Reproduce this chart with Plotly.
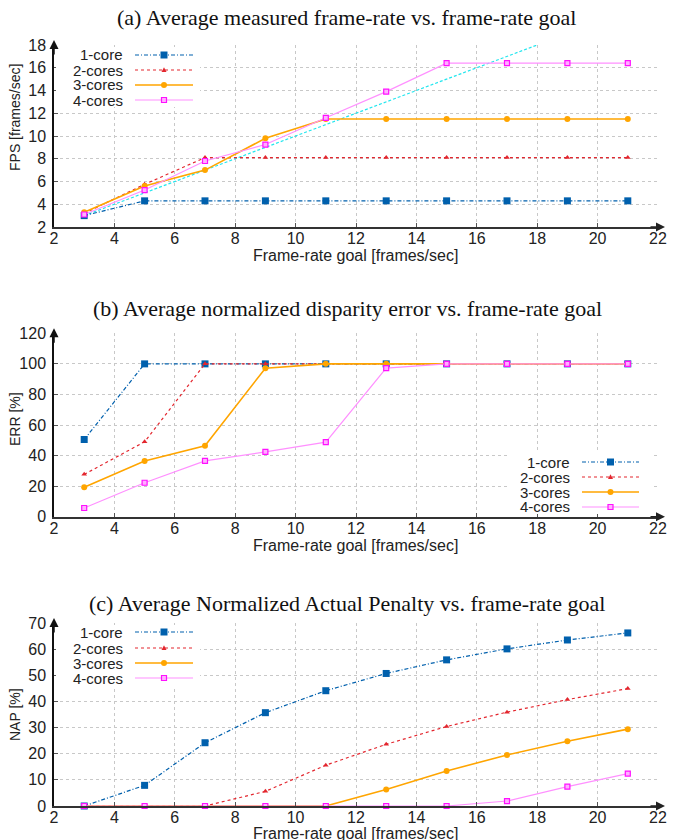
import plotly.graph_objects as go

# ---------------- data ----------------
goal = [3, 5, 7, 9, 11, 13, 15, 17, 19, 21]
series_names = ["1-core", "2-cores", "3-cores", "4-cores"]

fps_1core = [3.0, 4.3, 4.3, 4.3, 4.3, 4.3, 4.3, 4.3, 4.3, 4.3]
fps_2cores = [3.2, 5.75, 8.1, 8.1, 8.1, 8.1, 8.1, 8.1, 8.1, 8.1]
fps_3cores = [3.3, 5.6, 7.0, 9.8, 11.5, 11.5, 11.5, 11.5, 11.5, 11.5]
fps_4cores = [3.1, 5.25, 7.8, 9.25, 11.6, 13.9, 16.4, 16.4, 16.4, 16.4]
ideal_goal = [3, 18]
ideal_fps = [3, 18]

err_1core = [50.5, 100, 100, 100, 100, 100, 100, 100, 100, 100]
err_2cores = [27.7, 49, 100, 100, 100, 100, 100, 100, 100, 100]
err_3cores = [19.3, 36.5, 46.4, 97.2, 100, 100, 100, 100, 100, 100]
err_4cores = [5.7, 22.2, 36.5, 42.4, 48.8, 97.2, 100, 100, 100, 100]

nap_1core = [0, 7.9, 24.2, 35.7, 44.1, 50.7, 55.9, 60.1, 63.5, 66.2]
nap_2cores = [0, 0, 0, 5.6, 15.6, 23.6, 30.4, 35.9, 40.7, 44.9]
nap_3cores = [0, 0, 0, 0, 0, 6.3, 13.4, 19.5, 24.8, 29.4]
nap_4cores = [0, 0, 0, 0, 0, 0, 0, 1.9, 7.4, 12.4]

x_range = [2, 22]
fps_range = [2, 18]
err_range = [0, 120]
nap_range = [0, 70]

titles = ["(a) Average measured frame-rate vs. frame-rate goal",
          "(b) Average normalized disparity error vs. frame-rate goal",
          "(c) Average Normalized Actual Penalty vs. frame-rate goal"]
x_title = "Frame-rate goal [frames/sec]"
y_titles = ["FPS [frames/sec]", "ERR [%]", "NAP [%]"]

# ---------------- geometry helpers ----------------
W, H, OFF = 676, 840, 0


def px(x):
    return (x - OFF) / W


def py(y):
    return 1 - (y - OFF) / H


SANS = "Liberation Sans, Arial, Helvetica, sans-serif"
SERIF = "Liberation Serif, Times New Roman, serif"

styles = {
    "1-core": dict(line=dict(color="#0060ad", width=1.2, dash="4px,2px,1px,2px"),
                   marker=dict(symbol="square", size=7, color="#0060ad")),
    "2-cores": dict(line=dict(color="#e3262e", width=1.2, dash="dot"),
                    marker=dict(symbol="triangle-up", size=5, color="#e3262e")),
    "3-cores": dict(line=dict(color="#ffa500", width=1.6, dash="solid"),
                    marker=dict(symbol="circle", size=6, color="#ffa500")),
    "4-cores": dict(line=dict(color="#ff90ff", width=1.2, dash="solid"),
                    marker=dict(symbol="square", size=5, color="#ffb0ff",
                                line=dict(color="#ff10ff", width=1.2))),
}

fig = go.Figure()

panels = [
    (fps_range, 2, [fps_1core, fps_2cores, fps_3cores, fps_4cores], (45, 227)),
    (err_range, 20, [err_1core, err_2cores, err_3cores, err_4cores], (333.3, 516.7)),
    (nap_range, 10, [nap_1core, nap_2cores, nap_3cores, nap_4cores], (623, 806)),
]

layout = dict(
    width=W, height=H, template="none",
    margin=dict(l=0, r=0, t=0, b=0, autoexpand=False),
    paper_bgcolor="white", plot_bgcolor="white",
    showlegend=False,
    font=dict(family=SANS, size=14, color="#222"),
)

annotations = []
shapes = []

for i, (yr, dt, vals, (ytop, ybot)) in enumerate(panels):
    k = "" if i == 0 else str(i + 1)
    xa = "x" + k
    ya = "y" + k
    if i == 0:
        fig.add_trace(go.Scatter(x=ideal_goal, y=ideal_fps, mode="lines",
                                 line=dict(color="#22e6ee", width=1.2, dash="3px,2px"),
                                 xaxis=xa, yaxis=ya, hoverinfo="skip"))
    for name, v in zip(series_names, vals):
        st = styles[name]
        fig.add_trace(go.Scatter(x=goal, y=v, mode="lines+markers", name=name,
                                 line=st["line"], marker=st["marker"],
                                 cliponaxis=False, xaxis=xa, yaxis=ya))
    axis_common = dict(showgrid=True, gridcolor="#c8c8c8", griddash="dot", gridwidth=1,
                       zeroline=False, showline=True, ticks="inside", ticklen=4,
                       tickcolor="#555", tickfont=dict(family=SANS, size=16, color="#222"),
                       automargin=False)
    layout["xaxis" + k] = dict(axis_common, range=x_range, dtick=2, tick0=0,
                               domain=[px(54), px(658)], anchor=ya,
                               linecolor="#333", linewidth=2, ticklabelstandoff=-4)
    layout["yaxis" + k] = dict(axis_common, range=yr, dtick=dt, tick0=0,
                               domain=[py(ybot), py(ytop)], anchor=xa,
                               linecolor="#111", linewidth=1.5, ticklabelstandoff=3)
    # arrows on axes
    annotations.append(dict(x=px(665), y=py(ybot), ax=-16, ay=0,
                            xref="paper", yref="paper", axref="pixel", ayref="pixel",
                            text="", showarrow=True, arrowhead=2, arrowsize=1.2,
                            arrowwidth=1.5, arrowcolor="#222"))
    annotations.append(dict(x=px(54), y=py(ytop - 5), ax=0, ay=16,
                            xref="paper", yref="paper", axref="pixel", ayref="pixel",
                            text="", showarrow=True, arrowhead=2, arrowsize=1.2,
                            arrowwidth=1.5, arrowcolor="#111"))

# panel titles
for t, yy in zip(titles, [17, 308, 603]):
    annotations.append(dict(x=px(347), y=py(yy), xref="paper", yref="paper", text=t,
                            showarrow=False, xanchor="center", yanchor="middle",
                            font=dict(family=SERIF, size=22, color="#111")))
# x axis titles
for yy in [255, 545, 833]:
    annotations.append(dict(x=px(355), y=py(yy), xref="paper", yref="paper", text=x_title,
                            showarrow=False, xanchor="center", yanchor="middle",
                            font=dict(family=SANS, size=16, color="#222")))
# y axis titles
for t, yy in zip(y_titles, [118, 419, 715]):
    annotations.append(dict(x=px(15), y=py(yy), xref="paper", yref="paper", text=t,
                            textangle=-90, showarrow=False, xanchor="center",
                            yanchor="middle", font=dict(family=SANS, size=14, color="#222")))


# custom legends (text first, then line sample)
def add_legend(box, text_right, lx0, lx1, rows):
    bx0, by0, bx1, by1 = box
    shapes.append(dict(type="rect", xref="paper", yref="paper", x0=px(bx0), x1=px(bx1),
                       y0=py(by1), y1=py(by0), fillcolor="white", line=dict(width=0),
                       layer="above"))
    cx = (lx0 + lx1) / 2
    for name, ry in zip(series_names, rows):
        st = styles[name]
        annotations.append(dict(x=px(text_right), y=py(ry), xref="paper", yref="paper",
                                text=name, showarrow=False, xanchor="right",
                                yanchor="middle",
                                font=dict(family=SANS, size=15, color="#222")))
        shapes.append(dict(type="line", xref="paper", yref="paper", x0=px(lx0), x1=px(lx1),
                           y0=py(ry), y1=py(ry), line=st["line"], layer="above"))
        m = st["marker"]
        s = m["size"] / 2
        if m["symbol"] == "square":
            shapes.append(dict(type="rect", xref="paper", yref="paper",
                               x0=px(cx - s), x1=px(cx + s), y0=py(ry + s), y1=py(ry - s),
                               fillcolor=m["color"],
                               line=dict(color=m.get("line", {}).get("color", m["color"]),
                                         width=m.get("line", {}).get("width", 0)),
                               layer="above"))
        elif m["symbol"] == "circle":
            shapes.append(dict(type="circle", xref="paper", yref="paper",
                               x0=px(cx - s), x1=px(cx + s), y0=py(ry + s), y1=py(ry - s),
                               fillcolor=m["color"], line=dict(width=0), layer="above"))
        else:
            path = "M {} {} L {} {} L {} {} Z".format(px(cx - s), py(ry + s * 0.8),
                                                      px(cx + s), py(ry + s * 0.8),
                                                      px(cx), py(ry - s * 1.1))
            shapes.append(dict(type="path", xref="paper", yref="paper", path=path,
                               fillcolor=m["color"], line=dict(width=0), layer="above"))


add_legend((56, 47, 200, 107), 125, 135, 193, [55, 70, 85, 100])
add_legend((508, 452, 652, 514), 572, 582, 639, [462, 477, 492, 507])
add_legend((56, 625, 200, 686), 125, 135, 193, [632, 648, 663, 678])

layout["annotations"] = annotations
layout["shapes"] = shapes
fig.update_layout(**layout)

fig.write_html("out.html", config={"displayModeBar": False},
               post_script="document.body.style.margin='0';")
